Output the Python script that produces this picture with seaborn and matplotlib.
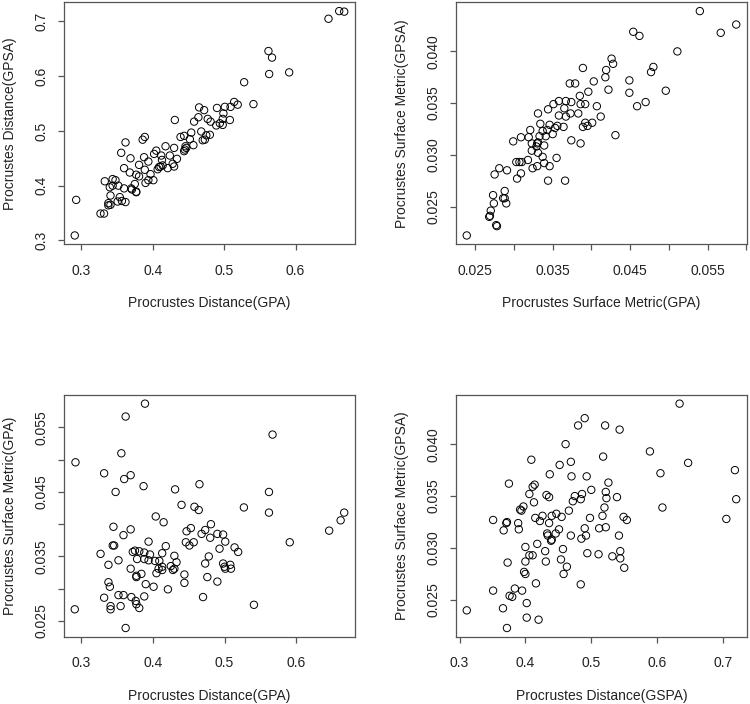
import matplotlib
matplotlib.use("Agg")
import matplotlib.pyplot as plt
import seaborn as sns
import pandas as pd

# panel 1: GPA distance vs GPSA distance
p1_x = [0.291, 0.293, 0.327, 0.332, 0.333, 0.338, 0.341, 0.338, 0.341, 0.340,
        0.344, 0.348, 0.344, 0.352, 0.351, 0.354, 0.357, 0.362, 0.360, 0.360,
        0.362, 0.356, 0.369, 0.368, 0.370, 0.371, 0.377, 0.377, 0.375, 0.377,
        0.381, 0.381, 0.386, 0.389, 0.388, 0.394, 0.389, 0.390, 0.394, 0.397,
        0.401, 0.402, 0.405, 0.407, 0.409, 0.411, 0.414, 0.412, 0.413, 0.418,
        0.421, 0.424, 0.430, 0.428, 0.430, 0.434, 0.431, 0.439, 0.444, 0.446,
        0.447, 0.444, 0.445, 0.452, 0.454, 0.457, 0.458, 0.464, 0.465, 0.472,
        0.468, 0.470, 0.473, 0.475, 0.480, 0.477, 0.481, 0.490, 0.489, 0.494,
        0.498, 0.498, 0.499, 0.501, 0.509, 0.508, 0.514, 0.519, 0.528, 0.541,
        0.562, 0.567, 0.563, 0.591, 0.646, 0.661, 0.668]
p1_y = [0.309, 0.374, 0.349, 0.349, 0.408, 0.368, 0.365, 0.364, 0.382, 0.397,
        0.412, 0.410, 0.400, 0.400, 0.371, 0.379, 0.372, 0.370, 0.395, 0.432,
        0.479, 0.460, 0.450, 0.424, 0.395, 0.393, 0.388, 0.389, 0.403, 0.420,
        0.417, 0.438, 0.484, 0.489, 0.452, 0.444, 0.429, 0.405, 0.410, 0.421,
        0.410, 0.458, 0.464, 0.430, 0.434, 0.435, 0.437, 0.455, 0.447, 0.472,
        0.432, 0.455, 0.469, 0.440, 0.435, 0.449, 0.520, 0.489, 0.491, 0.472,
        0.469, 0.463, 0.466, 0.485, 0.497, 0.474, 0.517, 0.525, 0.543, 0.538,
        0.499, 0.483, 0.484, 0.492, 0.493, 0.522, 0.517, 0.542, 0.510, 0.514,
        0.511, 0.522, 0.532, 0.544, 0.544, 0.520, 0.553, 0.548, 0.589, 0.549,
        0.646, 0.634, 0.604, 0.607, 0.705, 0.719, 0.718]

# panel 2: GPA surface metric vs GPSA surface metric
p2_x = [0.0239, 0.0268, 0.0269, 0.0270, 0.0274, 0.0273, 0.0277, 0.0278, 0.0275,
        0.0281, 0.0286, 0.0288, 0.0288, 0.0290, 0.0291, 0.0299, 0.0303, 0.0304,
        0.0307, 0.0310, 0.0309, 0.0309, 0.0318, 0.0319, 0.0321, 0.0323, 0.0323,
        0.0324, 0.0331, 0.0330, 0.0329, 0.0330, 0.0331, 0.0331, 0.0333, 0.0334,
        0.0337, 0.0339, 0.0339, 0.0337, 0.0341, 0.0344, 0.0343, 0.0346, 0.0344,
        0.0346, 0.0350, 0.0351, 0.0353, 0.0356, 0.0358, 0.0358, 0.0355, 0.0364,
        0.0365, 0.0367, 0.0367, 0.0366, 0.0372, 0.0379, 0.0373, 0.0374, 0.0374,
        0.0383, 0.0385, 0.0386, 0.0386, 0.0389, 0.0389, 0.0392, 0.0392, 0.0395,
        0.0396, 0.0401, 0.0403, 0.0407, 0.0412, 0.0418, 0.0419, 0.0422, 0.0426,
        0.0428, 0.0431, 0.0449, 0.0449, 0.0454, 0.0462, 0.0459, 0.0470, 0.0477,
        0.0480, 0.0496, 0.0511, 0.0540, 0.0567, 0.0587]
p2_y = [0.0222, 0.0240, 0.0241, 0.0246, 0.0253, 0.0261, 0.0232, 0.0231, 0.0281,
        0.0287, 0.0258, 0.0265, 0.0258, 0.0253, 0.0285, 0.0313, 0.0293, 0.0277,
        0.0293, 0.0293, 0.0317, 0.0282, 0.0295, 0.0317, 0.0324, 0.0311, 0.0304,
        0.0287, 0.0340, 0.0289, 0.0308, 0.0311, 0.0312, 0.0302, 0.0318, 0.0330,
        0.0298, 0.0292, 0.0309, 0.0323, 0.0318, 0.0344, 0.0324, 0.0329, 0.0275,
        0.0289, 0.0320, 0.0349, 0.0326, 0.0328, 0.0338, 0.0352, 0.0297, 0.0327,
        0.0345, 0.0337, 0.0352, 0.0275, 0.0369, 0.0369, 0.0340, 0.0351, 0.0314,
        0.0340, 0.0357, 0.0349, 0.0311, 0.0384, 0.0327, 0.0331, 0.0349, 0.0328,
        0.0361, 0.0331, 0.0371, 0.0347, 0.0337, 0.0375, 0.0382, 0.0363, 0.0393,
        0.0388, 0.0319, 0.0372, 0.0360, 0.0419, 0.0415, 0.0347, 0.0351, 0.0380,
        0.0385, 0.0362, 0.0400, 0.0439, 0.0418, 0.0426]

# panel 3: GPA distance vs GPA surface metric
p3_x = [0.389, 0.362, 0.567, 0.356, 0.292, 0.332, 0.360, 0.369, 0.387, 0.431,
        0.465, 0.348, 0.562, 0.440, 0.458, 0.464, 0.527, 0.562, 0.404, 0.415,
        0.667, 0.662, 0.646, 0.345, 0.369, 0.359, 0.447, 0.453, 0.473, 0.481,
        0.468, 0.480, 0.490, 0.498, 0.501, 0.446, 0.451, 0.457, 0.394, 0.344,
        0.346, 0.418, 0.591, 0.493, 0.514, 0.519, 0.327, 0.372, 0.375, 0.381,
        0.388, 0.396, 0.403, 0.409, 0.413, 0.378, 0.388, 0.394, 0.430, 0.433,
        0.352, 0.338, 0.384, 0.377, 0.377, 0.369, 0.405, 0.408, 0.413, 0.413,
        0.425, 0.428, 0.430, 0.444, 0.444, 0.473, 0.478, 0.476, 0.498, 0.500,
        0.501, 0.508, 0.509, 0.490, 0.338, 0.340, 0.390, 0.401, 0.421, 0.332,
        0.341, 0.341, 0.352, 0.355, 0.359, 0.370, 0.376, 0.377, 0.381, 0.388,
        0.291, 0.362, 0.470, 0.541]
p3_y = [0.0587, 0.0567, 0.0539, 0.0510, 0.0496, 0.0479, 0.0470, 0.0476, 0.0459,
        0.0454, 0.0462, 0.0450, 0.0450, 0.0430, 0.0427, 0.0422, 0.0426, 0.0418,
        0.0412, 0.0403, 0.0418, 0.0406, 0.0390, 0.0396, 0.0392, 0.0383, 0.0389,
        0.0394, 0.0391, 0.0400, 0.0385, 0.0379, 0.0385, 0.0384, 0.0373, 0.0372,
        0.0367, 0.0372, 0.0373, 0.0367, 0.0367, 0.0366, 0.0372, 0.0362, 0.0364,
        0.0357, 0.0354, 0.0357, 0.0359, 0.0358, 0.0356, 0.0353, 0.0343, 0.0343,
        0.0355, 0.0346, 0.0346, 0.0344, 0.0351, 0.0341, 0.0344, 0.0337, 0.0323,
        0.0320, 0.0318, 0.0331, 0.0324, 0.0331, 0.0329, 0.0334, 0.0335, 0.0329,
        0.0331, 0.0322, 0.0309, 0.0339, 0.0350, 0.0318, 0.0339, 0.0334, 0.0331,
        0.0337, 0.0331, 0.0311, 0.0310, 0.0303, 0.0307, 0.0303, 0.0299, 0.0286,
        0.0273, 0.0268, 0.0290, 0.0273, 0.0290, 0.0287, 0.0281, 0.0276, 0.0270,
        0.0288, 0.0268, 0.0239, 0.0287, 0.0275]

# panel 4: GSPA distance vs GPSA surface metric
p4_x = [0.311, 0.351, 0.351, 0.366, 0.372, 0.367, 0.371, 0.372, 0.373, 0.375,
        0.376, 0.380, 0.384, 0.389, 0.390, 0.392, 0.394, 0.397, 0.395, 0.398,
        0.400, 0.400, 0.400, 0.402, 0.402, 0.406, 0.411, 0.406, 0.409, 0.411,
        0.414, 0.413, 0.415, 0.416, 0.418, 0.420, 0.422, 0.426, 0.430, 0.431,
        0.432, 0.436, 0.433, 0.434, 0.436, 0.440, 0.437, 0.439, 0.440, 0.446,
        0.447, 0.451, 0.452, 0.454, 0.455, 0.457, 0.458, 0.461, 0.463, 0.466,
        0.469, 0.470, 0.472, 0.469, 0.475, 0.480, 0.484, 0.486, 0.484, 0.485,
        0.490, 0.490, 0.492, 0.493, 0.494, 0.498, 0.500, 0.511, 0.512, 0.517,
        0.518, 0.520, 0.521, 0.522, 0.523, 0.522, 0.526, 0.532, 0.539, 0.542,
        0.543, 0.544, 0.544, 0.549, 0.554, 0.550, 0.589, 0.605, 0.608, 0.634,
        0.647, 0.705, 0.718, 0.720]
p4_y = [0.0240, 0.0327, 0.0259, 0.0242, 0.0223, 0.0317, 0.0324, 0.0325, 0.0286,
        0.0362, 0.0254, 0.0253, 0.0261, 0.0324, 0.0318, 0.0337, 0.0336, 0.0340,
        0.0259, 0.0277, 0.0275, 0.0287, 0.0301, 0.0247, 0.0233, 0.0293, 0.0293,
        0.0352, 0.0385, 0.0359, 0.0361, 0.0344, 0.0329, 0.0266, 0.0304, 0.0231,
        0.0326, 0.0331, 0.0297, 0.0287, 0.0351, 0.0349, 0.0314, 0.0312, 0.0324,
        0.0331, 0.0371, 0.0307, 0.0308, 0.0314, 0.0333, 0.0318, 0.0380, 0.0289,
        0.0330, 0.0299, 0.0275, 0.0400, 0.0282, 0.0336, 0.0383, 0.0369, 0.0345,
        0.0312, 0.0350, 0.0418, 0.0347, 0.0352, 0.0265, 0.0309, 0.0425, 0.0319,
        0.0312, 0.0369, 0.0295, 0.0329, 0.0356, 0.0294, 0.0319, 0.0331, 0.0388,
        0.0339, 0.0418, 0.0354, 0.0348, 0.0320, 0.0363, 0.0292, 0.0349, 0.0312,
        0.0414, 0.0297, 0.0290, 0.0330, 0.0327, 0.0281, 0.0393, 0.0372, 0.0339,
        0.0439, 0.0382, 0.0328, 0.0375, 0.0347]

# labels and ticks
x_labels = ["Procrustes Distance(GPA)", "Procrustes Surface Metric(GPA)",
            "Procrustes Distance(GPA)", "Procrustes Distance(GSPA)"]
y_labels = ["Procrustes Distance(GPSA)", "Procrustes Surface Metric(GPSA)",
            "Procrustes Surface Metric(GPA)", "Procrustes Surface Metric(GPSA)"]

dist_ticks = [0.3, 0.4, 0.5, 0.6]
dist_labels = ["0.3", "0.4", "0.5", "0.6"]
dist_ticks_long = [0.3, 0.4, 0.5, 0.6, 0.7]
dist_labels_long = ["0.3", "0.4", "0.5", "0.6", "0.7"]
surf_ticks_wide = [0.025, 0.030, 0.035, 0.040, 0.045, 0.050, 0.055, 0.060]
surf_labels_wide = ["0.025", "", "0.035", "", "0.045", "", "0.055", ""]
surf_ticks_p3 = [0.025, 0.030, 0.035, 0.040, 0.045, 0.050, 0.055]
surf_labels_p3 = ["0.025", "", "0.035", "", "0.045", "", "0.055"]
surf_ticks = [0.025, 0.030, 0.035, 0.040]
surf_labels = ["0.025", "0.030", "0.035", "0.040"]

sns.set_style("ticks")
plt.rcParams["font.family"] = ["Liberation Sans", "DejaVu Sans"]
text_col = "#222222"
edge_col = "#555555"

fig, axes = plt.subplots(2, 2, figsize=(7.5, 7.04), dpi=100)
fig.subplots_adjust(left=0.0853, right=0.996, top=0.997, bottom=0.0952,
                    wspace=0.347, hspace=0.62)

panels = [
    (p1_x, p1_y, dist_ticks, dist_labels, dist_ticks_long, dist_labels_long),
    (p2_x, p2_y, surf_ticks_wide, surf_labels_wide, surf_ticks, surf_labels),
    (p3_x, p3_y, dist_ticks, dist_labels, surf_ticks_p3, surf_labels_p3),
    (p4_x, p4_y, dist_ticks_long, dist_labels_long, surf_ticks, surf_labels),
]

for i, ax in enumerate(axes.flat):
    xs, ys, xt, xtl, yt, ytl = panels[i]
    df = pd.DataFrame({"x": xs, "y": ys})
    sns.scatterplot(data=df, x="x", y="y", ax=ax, marker="o", s=28,
                    facecolor="none", edgecolor="black", linewidth=0.7)
    ax.margins(0.04)
    ax.set_xticks(xt)
    ax.set_xticklabels(xtl)
    ax.set_yticks(yt)
    ax.set_yticklabels(ytl)

    for sp in ax.spines.values():
        sp.set_visible(True)
        sp.set_color(edge_col)
        sp.set_linewidth(0.9)
    ax.tick_params(length=4.5, width=0.9, color=edge_col, labelsize=10,
                   labelcolor=text_col)
    ax.tick_params(axis="x", pad=9.5)
    ax.tick_params(axis="y", pad=7, labelrotation=90)
    for lab in ax.get_yticklabels():
        lab.set_verticalalignment("center")

    # R-like label placement (centred ~59 px below / ~54 px left of the box)
    ax.set_xlabel(x_labels[i], fontsize=10, color=text_col)
    ax.set_ylabel(y_labels[i], fontsize=10, color=text_col)
    ax.xaxis.set_label_coords(0.5, -59 / 242.5)
    ax.yaxis.set_label_coords(-54 / 291, 0.5)
    ax.xaxis.label.set_verticalalignment("center")
    ax.yaxis.label.set_verticalalignment("center")

fig.savefig("out.png", dpi=100)
